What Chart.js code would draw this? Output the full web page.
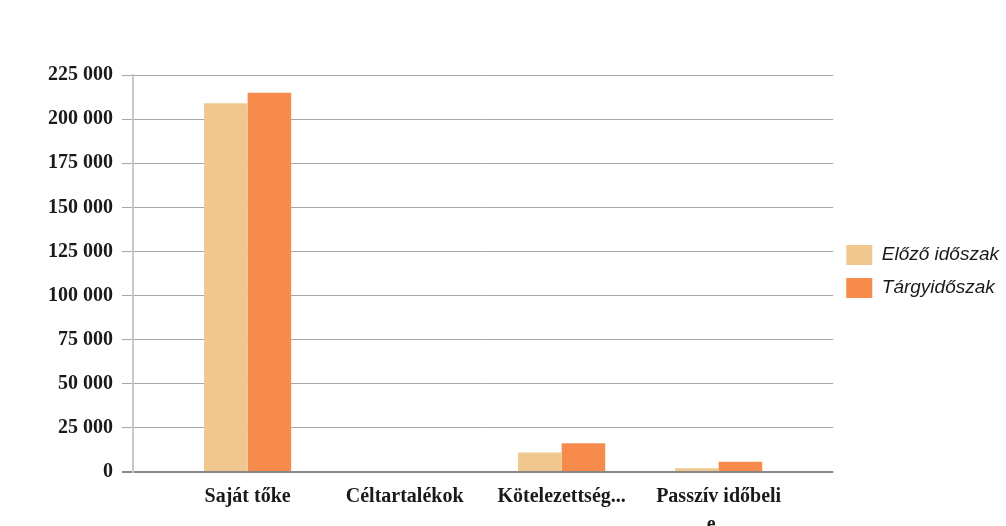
<!DOCTYPE html>
<html>
<head>
<meta charset="utf-8">
<script src="https://cdn.jsdelivr.net/npm/chart.js@4/dist/chart.umd.min.js"></script>
<style>
  html, body { margin: 0; padding: 0; background: #fff; }
  #wrap { width: 1006px; height: 526px; }
</style>
</head>
<body>
<div id="wrap"><canvas id="chart" width="1006" height="526"></canvas></div>
<script>
const categories = ['Saját tőke', 'Céltartalékok', 'Kötelezettség...', ['Passzív időbeli', 'e...']];
const seriesNames = ['Előző időszak', 'Tárgyidőszak'];
const elozo = [209000, 0, 11000, 2100];
const targy = [215000, 0, 16300, 5800];

const fmt = v => String(v).replace(/\B(?=(\d{3})+(?!\d))/g, ' ');

// nudge the legend up a bit, it sits a little above the plot middle
const legendShift = {
  id: 'legendShift',
  afterLayout(chart) {
    const lg = chart.legend;
    lg.top -= 29;
    lg.bottom -= 29;
  }
};

new Chart(document.getElementById('chart'), {
  type: 'bar',
  data: {
    datasets: [
      { label: seriesNames[0], data: elozo.map((v, i) => ({ x: i, y: v })), backgroundColor: '#efc78f' },
      { label: seriesNames[1], data: targy.map((v, i) => ({ x: i, y: v })), backgroundColor: '#f68b4c' }
    ]
  },
  plugins: [legendShift],
  options: {
    responsive: false,
    animation: false,
    layout: { padding: { top: 75, right: -3, bottom: 0, left: 0 } },
    categoryPercentage: 0.555,
    barPercentage: 1,
    plugins: {
      tooltip: { enabled: false },
      legend: {
        position: 'right',
        labels: {
          boxWidth: 26, boxHeight: 20, padding: 13, color: '#1a1a1a',
          font: { family: 'Liberation Sans', style: 'italic', size: 19 }
        }
      }
    },
    scales: {
      x: {
        type: 'linear', min: -0.73, max: 3.73, offset: false,
        grid: { display: false },
        border: { display: false },
        afterFit: s => { s.height = 54; },
        ticks: {
          stepSize: 1, includeBounds: false, autoSkip: false, maxRotation: 0, padding: 3,
          color: '#1a1a1a', font: { family: 'Liberation Serif', weight: 'bold', size: 20, lineHeight: 1.4 },
          callback: v => Number.isInteger(v) ? categories[v] : ''
        }
      },
      y: {
        min: 0, max: 225000,
        afterFit: s => { s.width = 133; },
        border: { color: '#c8c8c8', width: 2 },
        grid: {
          color: ctx => ctx.tick && ctx.tick.value === 0 ? '#888' : '#a8a8a8',
          lineWidth: ctx => ctx.tick && ctx.tick.value === 0 ? 2 : 1,
          tickLength: 11
        },
        ticks: {
          stepSize: 25000, padding: 9, color: '#1a1a1a',
          font: { family: 'Liberation Serif', weight: 'bold', size: 20 },
          callback: v => fmt(v)
        }
      }
    }
  }
});
</script>
</body>
</html>
